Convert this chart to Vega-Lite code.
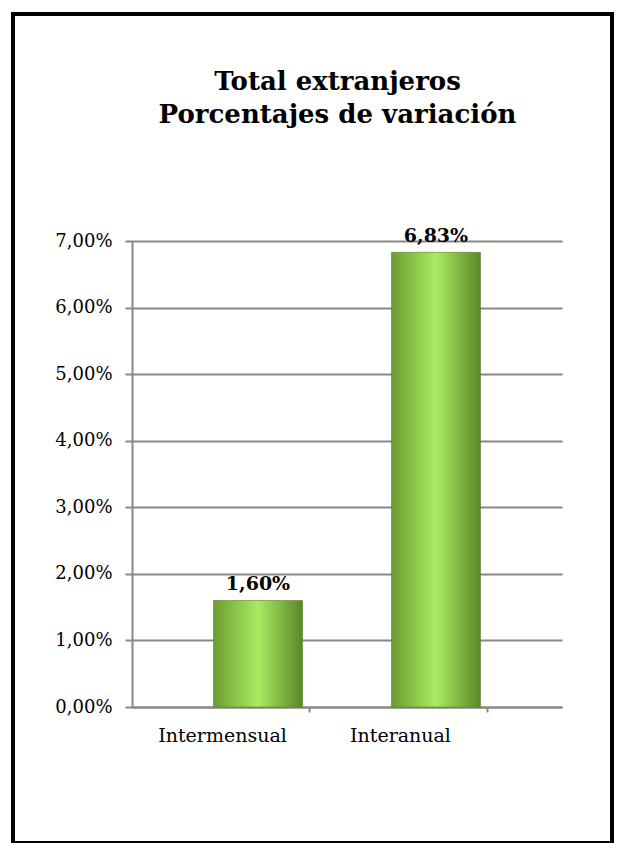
{
  "$schema": "https://vega.github.io/schema/vega-lite/v6.json",
  "autosize": "none",
  "width": 599,
  "height": 829,
  "padding": {"left": 13, "top": 14, "right": 7, "bottom": 0},
  "background": "white",
  "config": {
    "locale": {"number": {"decimal": ",", "thousands": ".", "grouping": [3], "currency": ["", " €"]}},
    "view": {"stroke": "black", "strokeWidth": 4, "fill": "white"},
    "font": "DejaVu Serif"
  },
  "title": {
    "text": ["Total extranjeros", "Porcentajes de variación"],
    "font": "DejaVu Serif",
    "fontSize": 26,
    "fontWeight": "bold",
    "color": "black",
    "lineHeight": 33,
    "anchor": "middle",
    "frame": "group",
    "offset": -114,
    "dx": 25
  },
  "data": {"values": [
    {"tipo": "Intermensual", "valor": 0.016},
    {"tipo": "Interanual", "valor": 0.0683}
  ]},
  "encoding": {
    "x": {
      "field": "tipo", "type": "nominal", "sort": null,
      "scale": {"range": [119, 549], "paddingInner": 0.5, "paddingOuter": 0.458},
      "axis": {
        "title": null, "orient": "bottom", "offset": -136, "labelAngle": 0,
        "domainColor": "#888888", "domainWidth": 2, "tickColor": "#888888", "tickWidth": 2, "tickSize": 5,
        "tickOffset": 51, "labelOffset": -87,
        "labelFont": "DejaVu Serif", "labelFontSize": 19, "labelColor": "black", "labelPadding": 14, "grid": false
      }
    },
    "y": {
      "field": "valor", "type": "quantitative",
      "scale": {"domain": [0, 0.07], "range": [693, 227], "nice": false},
      "axis": {
        "title": null, "format": ".2%", "values": [0, 0.01, 0.02, 0.03, 0.04, 0.05, 0.06, 0.07],
        "offset": -119, "grid": true, "gridColor": "#888888", "gridWidth": 2,
        "domainColor": "#888888", "domainWidth": 2, "tickColor": "#888888", "tickWidth": 2, "tickSize": 7,
        "labelFont": "DejaVu Serif", "labelFontSize": 18, "labelColor": "black", "labelPadding": 13
      }
    }
  },
  "layer": [
    {
      "mark": {
        "type": "bar",
        "fill": {"gradient": "linear", "x1": 0, "x2": 1, "y1": 0, "y2": 0,
          "stops": [
            {"offset": 0, "color": "#6c9c30"},
            {"offset": 0.5, "color": "#a8ec62"},
            {"offset": 1, "color": "#5a8727"}
          ]},
        "stroke": "#5a7f2a",
        "strokeWidth": 0.6
      }
    },
    {
      "mark": {"type": "text", "baseline": "alphabetic", "dy": -10, "font": "DejaVu Serif", "fontSize": 19, "fontWeight": "bold", "color": "black"},
      "encoding": {"text": {"field": "valor", "type": "quantitative", "format": ".2%"}}
    }
  ]
}
